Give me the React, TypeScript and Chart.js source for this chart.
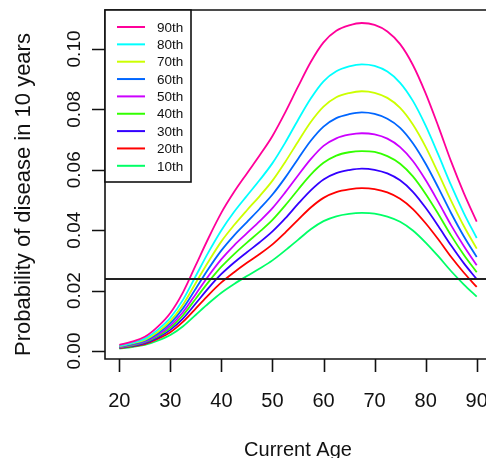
import React, { useEffect, useRef } from "react";
import { Chart, registerables } from "chart.js";

Chart.register(...registerables);

const AGES = [20, 22.5, 25, 27.5, 30, 32.5, 35, 37.5, 40, 42.5, 45, 47.5, 50, 52.5, 55, 57.5, 60, 62.5, 65, 67.5, 70, 72.5, 75, 77.5, 80, 82.5, 85, 87.5, 90];

const P90 = [0.0020, 0.0031, 0.0047, 0.0080, 0.0126, 0.0195, 0.0285, 0.0375, 0.0458, 0.0527, 0.0588, 0.0648, 0.0712, 0.0790, 0.0875, 0.0957, 0.1022, 0.1060, 0.1078, 0.1086, 0.1080, 0.1058, 0.1016, 0.0947, 0.0853, 0.0743, 0.0627, 0.0522, 0.0428];
const P80 = [0.0017, 0.0027, 0.0041, 0.0070, 0.0110, 0.0170, 0.0249, 0.0328, 0.0400, 0.0461, 0.0514, 0.0566, 0.0622, 0.0690, 0.0765, 0.0836, 0.0893, 0.0926, 0.0942, 0.0949, 0.0944, 0.0925, 0.0888, 0.0828, 0.0746, 0.0649, 0.0548, 0.0456, 0.0374];
const P70 = [0.0016, 0.0025, 0.0037, 0.0063, 0.0100, 0.0154, 0.0226, 0.0297, 0.0363, 0.0417, 0.0466, 0.0513, 0.0564, 0.0626, 0.0693, 0.0758, 0.0809, 0.0840, 0.0854, 0.0860, 0.0855, 0.0838, 0.0805, 0.0750, 0.0676, 0.0588, 0.0497, 0.0413, 0.0339];
const P60 = [0.0015, 0.0023, 0.0034, 0.0058, 0.0092, 0.0142, 0.0207, 0.0273, 0.0333, 0.0383, 0.0427, 0.0471, 0.0518, 0.0574, 0.0636, 0.0696, 0.0743, 0.0771, 0.0784, 0.0790, 0.0785, 0.0769, 0.0739, 0.0688, 0.0620, 0.0540, 0.0456, 0.0379, 0.0311];
const P50 = [0.0013, 0.0021, 0.0031, 0.0053, 0.0084, 0.0129, 0.0189, 0.0249, 0.0304, 0.0350, 0.0390, 0.0430, 0.0473, 0.0525, 0.0581, 0.0635, 0.0679, 0.0704, 0.0716, 0.0721, 0.0717, 0.0703, 0.0675, 0.0629, 0.0566, 0.0493, 0.0416, 0.0347, 0.0284];
const P40 = [0.0012, 0.0019, 0.0029, 0.0049, 0.0077, 0.0119, 0.0174, 0.0229, 0.0279, 0.0321, 0.0359, 0.0395, 0.0434, 0.0482, 0.0534, 0.0584, 0.0623, 0.0647, 0.0658, 0.0662, 0.0659, 0.0645, 0.0620, 0.0578, 0.0520, 0.0453, 0.0382, 0.0318, 0.0261];
const P30 = [0.0011, 0.0017, 0.0026, 0.0044, 0.0070, 0.0108, 0.0158, 0.0209, 0.0255, 0.0293, 0.0327, 0.0360, 0.0396, 0.0439, 0.0487, 0.0532, 0.0568, 0.0589, 0.0599, 0.0604, 0.0600, 0.0588, 0.0565, 0.0527, 0.0474, 0.0413, 0.0349, 0.0290, 0.0238];
const P20 = [0.0010, 0.0015, 0.0023, 0.0040, 0.0062, 0.0097, 0.0141, 0.0186, 0.0227, 0.0261, 0.0292, 0.0321, 0.0353, 0.0392, 0.0434, 0.0475, 0.0507, 0.0526, 0.0535, 0.0539, 0.0536, 0.0525, 0.0504, 0.0470, 0.0423, 0.0369, 0.0311, 0.0259, 0.0212];
const P10 = [0.0008, 0.0013, 0.0020, 0.0034, 0.0053, 0.0082, 0.0120, 0.0158, 0.0193, 0.0222, 0.0248, 0.0273, 0.0300, 0.0333, 0.0368, 0.0403, 0.0430, 0.0446, 0.0454, 0.0457, 0.0455, 0.0445, 0.0428, 0.0399, 0.0359, 0.0313, 0.0264, 0.0220, 0.0180];

const SERIES_LABELS = ["90th", "80th", "70th", "60th", "50th", "40th", "30th", "20th", "10th"];
const SERIES_VALUES = [P90, P80, P70, P60, P50, P40, P30, P20, P10];
const SERIES_COLORS = ["#FF0099", "#00FFFF", "#CCFF00", "#0066FF", "#CC00FF", "#33FF00", "#3300FF", "#FF0000", "#00FF66"];

const X_TICKS = [20, 30, 40, 50, 60, 70, 80, 90];
const Y_TICKS = [0, 0.02, 0.04, 0.06, 0.08, 0.1];
const Y_TICK_LABELS = ["0.00", "0.02", "0.04", "0.06", "0.08", "0.10"];
const REF_LINE = 0.0238;
const X_TITLE = "Current Age";
const Y_TITLE = "Probability of disease in 10 years";

const X_MIN = 17.2;
const X_MAX = 91.82;
const X_FULL_MAX = 92.8;
const Y_MIN = -0.00265;
const Y_MAX = 0.1129;

const FONT = "'Liberation Sans', Arial, Helvetica, sans-serif";
const INK = "#111111";

const rAxesPlugin = {
  id: "rAxes",
  afterDraw(chart: any) {
    const ctx = chart.ctx as CanvasRenderingContext2D;
    const { left, top, right, bottom } = chart.chartArea;
    const xs = chart.scales.x;
    const ys = chart.scales.y;
    ctx.save();
    ctx.strokeStyle = INK;
    ctx.fillStyle = INK;
    ctx.lineWidth = 1.6;

    // plot box (right side falls outside the picture)
    ctx.beginPath();
    ctx.moveTo(right + 5, top);
    ctx.lineTo(left, top);
    ctx.lineTo(left, bottom);
    ctx.lineTo(right + 5, bottom);
    ctx.stroke();

    // x ticks
    ctx.beginPath();
    X_TICKS.forEach((v) => {
      const px = Math.round(xs.getPixelForValue(v)) + 0.5;
      ctx.moveTo(px, bottom);
      ctx.lineTo(px, bottom + 13);
    });
    // y ticks
    Y_TICKS.forEach((v) => {
      const py = Math.round(ys.getPixelForValue(v)) + 0.5;
      ctx.moveTo(left, py);
      ctx.lineTo(left - 13, py);
    });
    ctx.stroke();

    // x tick labels
    ctx.font = `20px ${FONT}`;
    ctx.textAlign = "center";
    ctx.textBaseline = "alphabetic";
    X_TICKS.forEach((v) => {
      ctx.fillText(String(v), xs.getPixelForValue(v), bottom + 48);
    });

    // y tick labels (rotated)
    ctx.font = `19px ${FONT}`;
    Y_TICKS.forEach((v, i) => {
      const py = ys.getPixelForValue(v);
      ctx.save();
      ctx.translate(left - 25, py);
      ctx.rotate(-Math.PI / 2);
      ctx.textAlign = "center";
      ctx.fillText(Y_TICK_LABELS[i], 0, 0);
      ctx.restore();
    });

    // axis titles
    ctx.font = `20px ${FONT}`;
    ctx.textAlign = "center";
    const xCenter = (left + xs.getPixelForValue(X_FULL_MAX)) / 2;
    ctx.fillText(X_TITLE, xCenter, bottom + 97);

    ctx.save();
    ctx.font = `22px ${FONT}`;
    ctx.translate(30, (top + bottom) / 2 + 10);
    ctx.rotate(-Math.PI / 2);
    ctx.textAlign = "center";
    ctx.fillText(Y_TITLE, 0, 0);
    ctx.restore();

    // legend inside the plot (top-left)
    const lgW = 86;
    const lgH = 172;
    ctx.fillStyle = "#ffffff";
    ctx.fillRect(left, top, lgW, lgH);
    ctx.strokeStyle = INK;
    ctx.lineWidth = 1.6;
    ctx.strokeRect(left, top, lgW, lgH);
    ctx.font = `13.5px ${FONT}`;
    ctx.textAlign = "left";
    ctx.textBaseline = "middle";
    SERIES_LABELS.forEach((lab, i) => {
      const y = top + 17 + i * 17.35;
      ctx.strokeStyle = SERIES_COLORS[i];
      ctx.lineWidth = 2;
      ctx.beginPath();
      ctx.moveTo(left + 12, y);
      ctx.lineTo(left + 40, y);
      ctx.stroke();
      ctx.fillStyle = INK;
      ctx.fillText(lab, left + 52, y + 1);
    });
    ctx.restore();
  },
};

export default function App() {
  const canvasRef = useRef<HTMLCanvasElement | null>(null);

  useEffect(() => {
    const canvas = canvasRef.current;
    if (!canvas) return;
    const datasets: any[] = [
      {
        label: "ref",
        data: [
          { x: X_MIN, y: REF_LINE },
          { x: X_FULL_MAX, y: REF_LINE },
        ],
        borderColor: "#222222",
        borderWidth: 2,
        pointRadius: 0,
        tension: 0,
        order: -1,
      },
    ];
    SERIES_LABELS.forEach((lab, i) => {
      datasets.push({
        label: lab,
        data: AGES.map((a, j) => ({ x: a, y: SERIES_VALUES[i][j] })),
        borderColor: SERIES_COLORS[i],
        borderWidth: 1.8,
        pointRadius: 0,
        cubicInterpolationMode: "monotone",
        fill: false,
      });
    });

    const chart = new Chart(canvas, {
      type: "line",
      data: { datasets },
      options: {
        animation: false,
        responsive: false,
        devicePixelRatio: 1,
        layout: { padding: { left: 105, top: 10, right: 0, bottom: 99 } },
        scales: {
          x: { type: "linear", min: X_MIN, max: X_MAX, display: false },
          y: { type: "linear", min: Y_MIN, max: Y_MAX, display: false },
        },
        plugins: {
          legend: { display: false },
          tooltip: { enabled: false },
        },
      },
      plugins: [rAxesPlugin],
    });
    return () => chart.destroy();
  }, []);

  return (
    <div style={{ position: "fixed", left: 0, top: 0, width: 486, height: 458, background: "#ffffff" }}>
      <canvas ref={canvasRef} width={486} height={458} style={{ display: "block", width: 486, height: 458 }} />
    </div>
  );
}
